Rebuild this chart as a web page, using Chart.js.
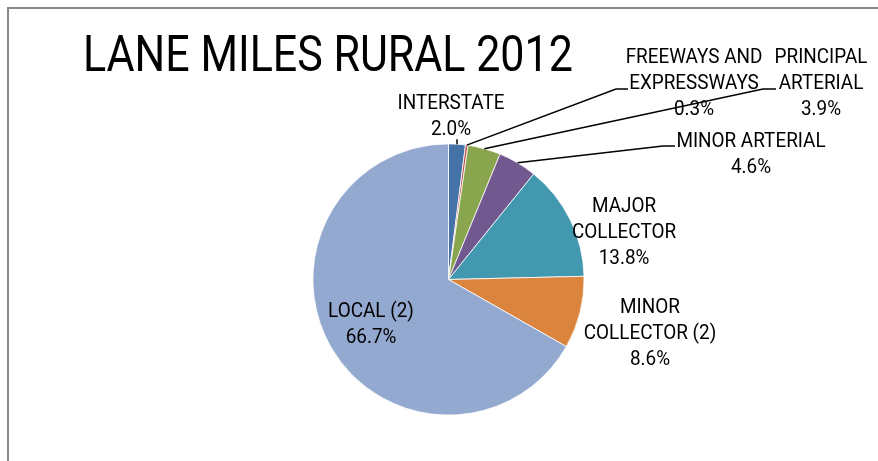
<!DOCTYPE html>
<html>
<head>
<meta charset="utf-8">
<script src="https://cdn.jsdelivr.net/npm/chart.js@4"></script>
<style>
  html, body { margin: 0; padding: 0; background: #fff; }
  #wrap { width: 878px; height: 461px; }
</style>
</head>
<body>
<div id="wrap"><canvas id="pieChart" width="878" height="461"></canvas></div>
<script>
const chartTitle = 'LANE MILES RURAL 2012';
const categories = ['INTERSTATE', 'FREEWAYS AND EXPRESSWAYS', 'PRINCIPAL ARTERIAL', 'MINOR ARTERIAL',
    'MAJOR COLLECTOR', 'MINOR COLLECTOR (2)', 'LOCAL (2)'];
const labelLines = [['INTERSTATE'], ['FREEWAYS AND', 'EXPRESSWAYS'], ['PRINCIPAL', 'ARTERIAL'], ['MINOR ARTERIAL'],
    ['MAJOR', 'COLLECTOR'], ['MINOR', 'COLLECTOR (2)'], ['LOCAL (2)']];
const shares = [2.0, 0.3, 3.9, 4.6, 13.8, 8.6, 66.7];
const colors = ['#4572A7', '#C0504D', '#89A54E', '#71588F', '#4198AF', '#DB843D', '#93A9CF'];

// no narrow font installed, so squeeze Roboto a bit to get Calibri-ish widths
const FONT = '"Liberation Sans Narrow", "Arial Narrow", "Roboto", sans-serif';
const titleSquash = 0.86;
const labelSquash = 0.9;

// where each label sits: centre x and first baseline; elbow = end of leader line
const labelPos = [
    { x: 451, y: 109, tick: true },
    { x: 694, y: 63, elbow: [616, 89], end: 628 },
    { x: 821, y: 63, elbow: [763, 89], end: 776 },
    { x: 751, y: 147, elbow: [663, 146], end: 675 },
    { x: 624, y: 212 },
    { x: 650, y: 313 },
    { x: 371, y: 317 }
];
const lineGap = 26;

function squashText(c, text, x, y, sx) {
    c.save();
    c.translate(x, y);
    c.scale(sx, 1);
    c.fillText(text, 0, 0);
    c.restore();
}

const frame = {
    id: 'frame',
    beforeDraw(chart) {
        const c = chart.ctx;
        c.save();
        c.fillStyle = '#fff';
        c.fillRect(0, 0, chart.width, chart.height);
        c.strokeStyle = '#888';
        c.lineWidth = 2;
        c.strokeRect(8, 8, 900, 500);
        c.restore();
    }
};

const labels = {
    id: 'labels',
    afterDraw(chart) {
        const c = chart.ctx;
        const arcs = chart.getDatasetMeta(0).data;
        c.save();
        c.fillStyle = '#000';
        c.font = '50px ' + FONT;
        c.textAlign = 'left';
        c.textBaseline = 'alphabetic';
        squashText(c, chartTitle, 83, 71, titleSquash);

        c.strokeStyle = '#000';
        c.lineWidth = 1.5;
        arcs.forEach((arc, i) => {
            const p = labelPos[i];
            const mid = (arc.startAngle + arc.endAngle) / 2;
            const ax = arc.x + Math.cos(mid) * arc.outerRadius;
            const ay = arc.y + Math.sin(mid) * arc.outerRadius;
            if (p.elbow) {
                c.beginPath();
                c.moveTo(ax, ay);
                c.lineTo(p.elbow[0], p.elbow[1]);
                c.lineTo(p.end, p.elbow[1]);
                c.stroke();
            } else if (p.tick) {
                c.beginPath();
                c.moveTo(ax, ay);
                c.lineTo(ax, ay - 5);
                c.stroke();
            }
        });

        c.font = '21px ' + FONT;
        c.textAlign = 'center';
        arcs.forEach((arc, i) => {
            const p = labelPos[i];
            const lines = labelLines[i].concat([shares[i].toFixed(1) + '%']);
            lines.forEach((t, k) => squashText(c, t, p.x, p.y + k * lineGap, labelSquash));
        });
        c.restore();
    }
};

new Chart(document.getElementById('pieChart'), {
    type: 'pie',
    data: {
        labels: categories,
        datasets: [{
            data: shares,
            backgroundColor: colors,
            borderColor: '#fff',
            borderWidth: 0.8
        }]
    },
    options: {
        responsive: false,
        animation: false,
        layout: {
            padding: { top: 143.5, bottom: 45.5, left: 312.5, right: 293.5 }
        },
        plugins: {
            legend: { display: false },
            tooltip: { enabled: false },
            title: { display: false }
        }
    },
    plugins: [frame, labels]
});
</script>
</body>
</html>
